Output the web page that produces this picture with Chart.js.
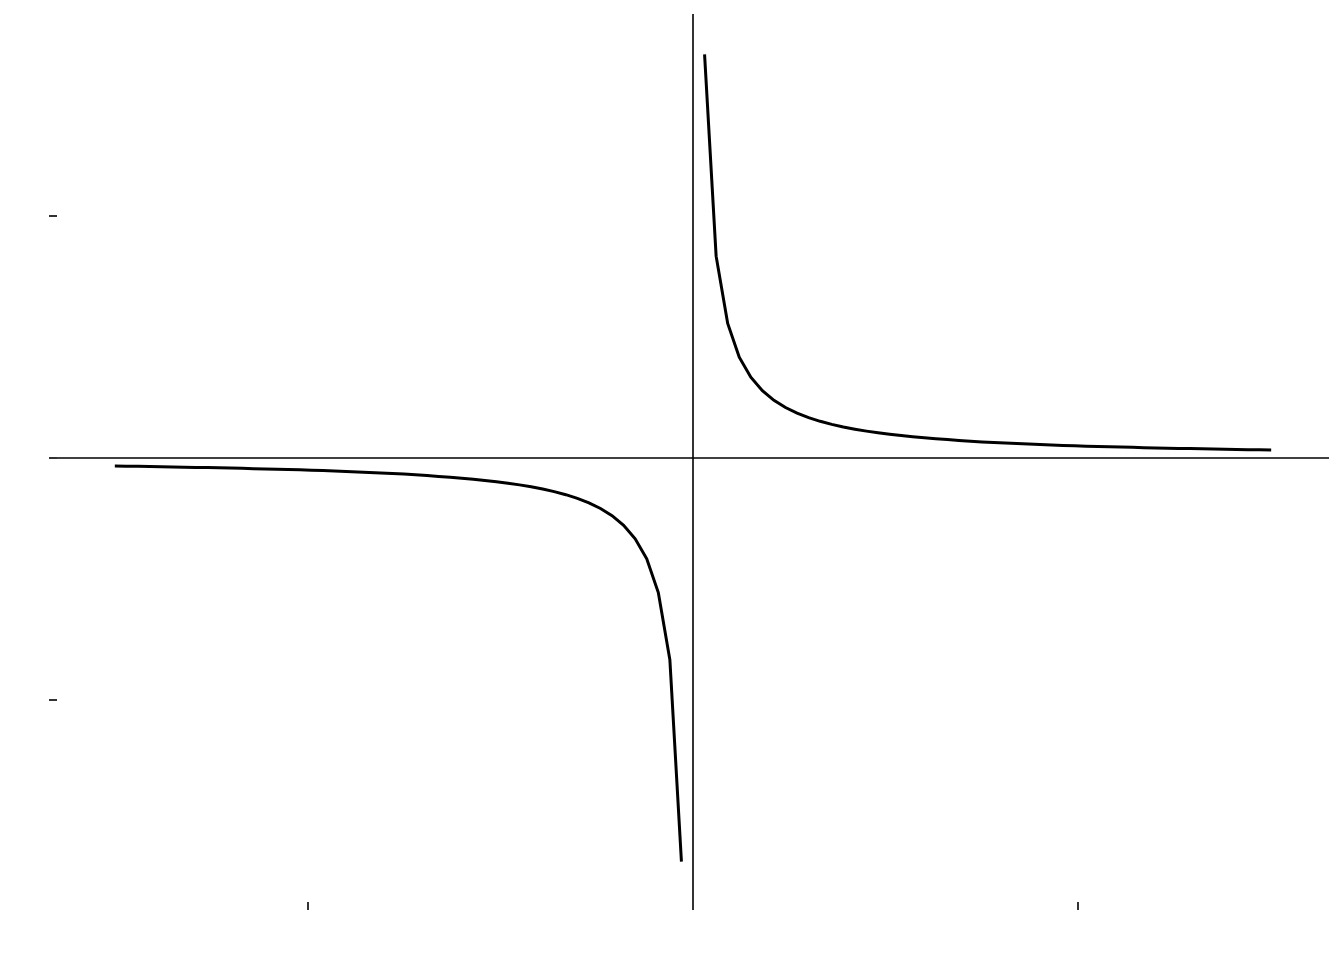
<!DOCTYPE html>
<html>
<head>
<meta charset="utf-8">
<script src="https://cdn.jsdelivr.net/npm/chart.js@4"></script>
<style>
  html, body { margin: 0; padding: 0; background: #fff; }
  canvas { display: block; }
</style>
</head>
<body>
<canvas id="myChart" width="1344" height="960"></canvas>
<script>
var xLeft = [-1.50, -1.47, -1.44, -1.41, -1.38, -1.35, -1.32, -1.29, -1.26, -1.23,
  -1.20, -1.17, -1.14, -1.11, -1.08, -1.05, -1.02, -0.99, -0.96, -0.93,
  -0.90, -0.87, -0.84, -0.81, -0.78, -0.75, -0.72, -0.69, -0.66, -0.63,
  -0.60, -0.57, -0.54, -0.51, -0.48, -0.45, -0.42, -0.39, -0.36, -0.33,
  -0.30, -0.27, -0.24, -0.21, -0.18, -0.15, -0.12, -0.09, -0.06, -0.03];
var yLeft = [-0.67, -0.68, -0.69, -0.71, -0.72, -0.74, -0.76, -0.78, -0.79, -0.81,
  -0.83, -0.85, -0.88, -0.90, -0.93, -0.95, -0.98, -1.01, -1.04, -1.08,
  -1.11, -1.15, -1.19, -1.23, -1.28, -1.33, -1.39, -1.45, -1.52, -1.59,
  -1.67, -1.75, -1.85, -1.96, -2.08, -2.22, -2.38, -2.56, -2.78, -3.03,
  -3.33, -3.70, -4.17, -4.76, -5.56, -6.67, -8.33, -11.11, -16.67, -33.33];
var xRight = [0.03, 0.06, 0.09, 0.12, 0.15, 0.18, 0.21, 0.24, 0.27, 0.30,
  0.33, 0.36, 0.39, 0.42, 0.45, 0.48, 0.51, 0.54, 0.57, 0.60,
  0.63, 0.66, 0.69, 0.72, 0.75, 0.78, 0.81, 0.84, 0.87, 0.90,
  0.93, 0.96, 0.99, 1.02, 1.05, 1.08, 1.11, 1.14, 1.17, 1.20,
  1.23, 1.26, 1.29, 1.32, 1.35, 1.38, 1.41, 1.44, 1.47, 1.50];
var yRight = [33.33, 16.67, 11.11, 8.33, 6.67, 5.56, 4.76, 4.17, 3.70, 3.33,
  3.03, 2.78, 2.56, 2.38, 2.22, 2.08, 1.96, 1.85, 1.75, 1.67,
  1.59, 1.52, 1.45, 1.39, 1.33, 1.28, 1.23, 1.19, 1.15, 1.11,
  1.08, 1.04, 1.01, 0.98, 0.95, 0.93, 0.90, 0.88, 0.85, 0.83,
  0.81, 0.79, 0.78, 0.76, 0.74, 0.72, 0.71, 0.69, 0.68, 0.67];

var xTicks = [-1, 0, 1];
var yTicks = [-20, 0, 20];
var xLimits = [-1.65, 1.65];
var yLimits = [-36.67, 36.67];

function toPoints(xs, ys) {
  return xs.map(function(x, i) { return { x: x, y: ys[i] }; });
}

document.addEventListener('DOMContentLoaded', function() {
  var ctx = document.getElementById('myChart').getContext('2d');
  var myChart = new Chart(ctx, {
    type: 'scatter',
    data: {
      datasets: [
        { // horizontal line at y = 0
          data: [{ x: xLimits[0], y: 0 }, { x: xLimits[1], y: 0 }],
          showLine: true, borderColor: '#000', borderWidth: 1.6, pointRadius: 0
        },
        { // vertical line at x = 0
          data: [{ x: 0, y: yLimits[0] }, { x: 0, y: yLimits[1] }],
          showLine: true, borderColor: '#000', borderWidth: 1.6, pointRadius: 0
        },
        {
          data: toPoints(xLeft, yLeft),
          showLine: true, borderColor: '#000', borderWidth: 3, pointRadius: 0, tension: 0
        },
        {
          data: toPoints(xRight, yRight),
          showLine: true, borderColor: '#000', borderWidth: 3, pointRadius: 0, tension: 0
        }
      ]
    },
    options: {
      responsive: false,
      animation: false,
      devicePixelRatio: 1,
      layout: { padding: { left: 49, right: 15, top: 14, bottom: 50 } },
      plugins: { legend: { display: false }, tooltip: { enabled: false } },
      scales: {
        x: {
          type: 'linear',
          min: xLimits[0],
          max: xLimits[1],
          afterBuildTicks: function(scale) {
            scale.ticks = xTicks.map(function(v) { return { value: v }; });
          },
          ticks: { display: false },
          border: { display: false },
          grid: { drawOnChartArea: false, drawTicks: true, tickLength: 8, color: '#333333', lineWidth: 2 }
        },
        y: {
          type: 'linear',
          min: yLimits[0],
          max: yLimits[1],
          afterBuildTicks: function(scale) {
            scale.ticks = yTicks.map(function(v) { return { value: v }; });
          },
          ticks: { display: false },
          border: { display: false },
          grid: { drawOnChartArea: false, drawTicks: true, tickLength: 8, color: '#333333', lineWidth: 2 }
        }
      }
    }
  });
});
</script>
</body>
</html>
